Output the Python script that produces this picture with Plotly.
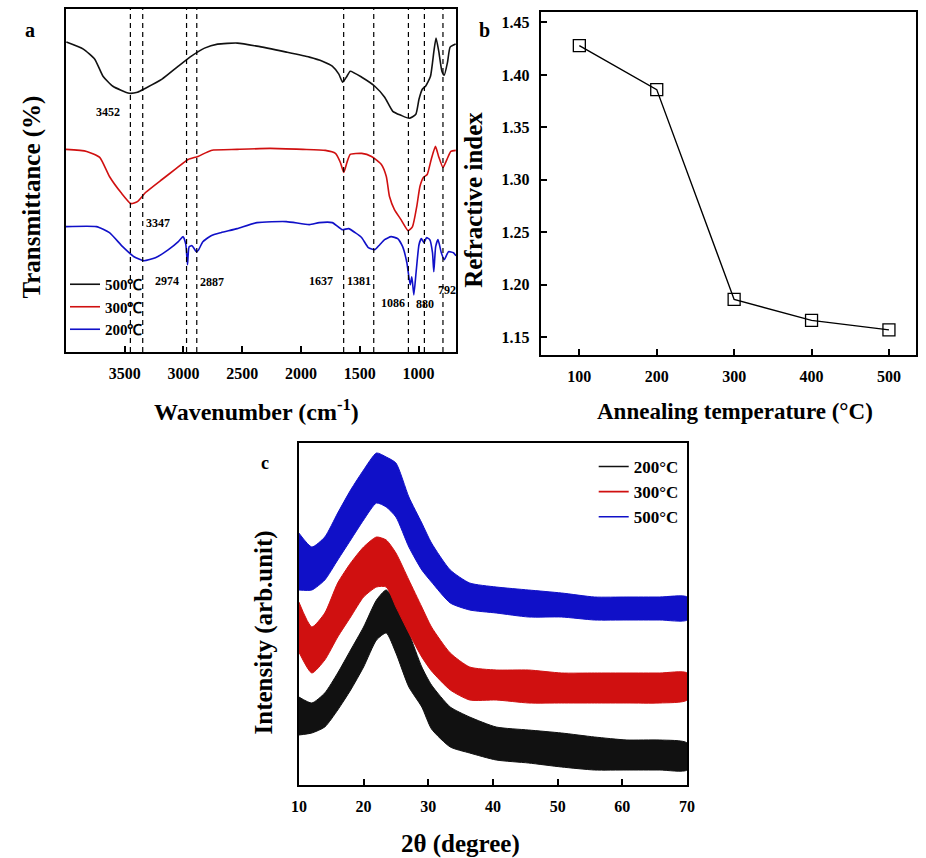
import plotly.graph_objects as go

W, H = 926, 858
def px(x): return x / W
def py(y): return 1 - y / H

FONT = "Liberation Serif"

# ---------------- Panel a : FTIR ----------------
wn_500 = [3997, 3852, 3755, 3685, 3601, 3462, 3392, 3323, 3183, 3044, 2933, 2821, 2710, 2542, 2375, 2124,
          1929, 1818, 1734, 1678, 1645, 1609, 1581, 1483, 1372, 1288, 1219, 1149, 1079, 1023, 996, 968,
          940, 898, 870, 851, 828, 801, 781, 753, 731, 684]
t_500 = [309, 302, 292, 275, 265, 258, 259, 263, 272, 285, 295, 303, 307, 308, 305, 299,
         294, 290, 285, 277, 269, 275, 280, 274, 265, 254, 240, 236, 233, 237, 252, 262,
         265, 275, 299, 313, 300, 280, 276, 289, 304, 307]

wn_300 = [4000, 3824, 3713, 3630, 3532, 3448, 3392, 3323, 3183, 3072, 2961, 2877, 2765, 2543, 2263, 1985,
          1793, 1707, 1665, 1636, 1609, 1581, 1483, 1400, 1316, 1274, 1247, 1205, 1149, 1088, 1051, 1015,
          988, 959, 926, 892, 856, 829, 792, 758, 725, 683]
t_300 = [202, 200, 194, 175, 159, 148, 150, 159, 172, 182, 192, 195, 201, 202, 203, 202,
         201, 198, 189, 179, 189, 197, 198, 195, 187, 175, 155, 142, 132, 121, 125, 145,
         165, 174, 177, 192, 205, 195, 184, 192, 200, 201]

wn_200 = [4000, 3741, 3630, 3518, 3421, 3337, 3239, 3128, 3044, 3003, 2980, 2966, 2952, 2927, 2890, 2871,
          2835, 2765, 2681, 2543, 2375, 2125, 1929, 1845, 1734, 1651, 1595, 1539, 1483, 1427, 1372, 1330,
          1289, 1233, 1177, 1135, 1099, 1071, 1057, 1040, 1021, 996, 976, 954, 932, 904, 881, 870,
          854, 834, 806, 781, 745, 703, 681]
t_200 = [125, 125, 119, 105, 95, 91, 94, 102, 110, 115, 107, 87, 105, 106, 100, 102,
         110, 116, 119, 123, 129, 130, 127, 129, 129, 122, 123, 119, 114, 104, 102, 107,
         112, 115, 113, 105, 89, 67, 75, 57, 79, 107, 113, 109, 114, 112, 99, 80,
         105, 112, 99, 92, 100, 99, 96]

peak_lines = [3452, 3347, 2974, 2887, 1637, 1381, 1086, 950, 792]
peak_labels = ["3452", "3347", "2974", "2887", "1637", "1381", "1086", "880", "792"]
peak_label_wn = [3640, 3214, 3139, 2754, 1834, 1508, 1216, 948, 756]
peak_label_t = [239, 129, 71, 70, 71, 71, 49, 48, 62]

wn_ticks = [3500, 3000, 2500, 2000, 1500, 1000]

# ---------------- Panel b : refractive index ----------------
anneal_temp = [100, 200, 300, 400, 500]
refr_index = [1.428, 1.386, 1.186, 1.166, 1.157]
n_ticks = [1.15, 1.20, 1.25, 1.30, 1.35, 1.40, 1.45]

# ---------------- Panel c : XRD (noise band envelopes) ----------------
two_theta = [10, 12, 14, 16, 18, 20, 22, 23.5, 25, 27, 29, 30.5, 33.4, 36.4, 40.5, 45.5, 50.6, 55.7, 60.7, 65.8, 70]
xrd200_hi = [88, 82, 92, 112, 135, 158, 185, 195, 182, 152, 118, 100, 78, 68, 58, 55, 52, 48, 45, 45, 42]
xrd200_lo = [50, 52, 58, 75, 95, 118, 145, 152, 132, 98, 78, 56, 38, 32, 25, 22, 18, 15, 15, 15, 15]
xrd300_hi = [183, 158, 172, 202, 222, 238, 248, 245, 232, 205, 178, 158, 132, 118, 115, 115, 112, 112, 112, 112, 112]
xrd300_lo = [133, 112, 125, 148, 168, 188, 198, 198, 178, 152, 128, 114, 95, 85, 85, 82, 82, 82, 82, 82, 85]
xrd500_hi = [252, 238, 248, 272, 295, 315, 332, 328, 322, 288, 262, 242, 215, 202, 198, 195, 192, 188, 188, 188, 188]
xrd500_lo = [195, 195, 205, 225, 245, 265, 282, 278, 268, 238, 215, 203, 182, 175, 172, 168, 168, 165, 165, 165, 165]
theta_ticks = [10, 20, 30, 40, 50, 60, 70]

BLACK, RED, BLUE = "#111111", "#d01010", "#1010c8"

fig = go.Figure()

# FTIR curves
for wn, t, name, col in [(wn_500, t_500, "500℃", BLACK), (wn_300, t_300, "300℃", RED), (wn_200, t_200, "200℃", BLUE)]:
    fig.add_trace(go.Scatter(x=wn, y=t, mode="lines", name=name, line=dict(color=col, width=1.6, shape="spline", smoothing=0.5),
                             xaxis="x", yaxis="y", legend="legend"))

# Refractive index
fig.add_trace(go.Scatter(x=anneal_temp, y=refr_index, mode="lines+markers", showlegend=False,
                         line=dict(color="black", width=1.4),
                         marker=dict(symbol="square-open", size=12, color="black", line=dict(width=1.3)),
                         xaxis="x2", yaxis="y2"))

# XRD bands
for hi, lo, name, col in [(xrd200_hi, xrd200_lo, "200°C", BLACK), (xrd300_hi, xrd300_lo, "300°C", RED), (xrd500_hi, xrd500_lo, "500°C", BLUE)]:
    fig.add_trace(go.Scatter(x=two_theta + two_theta[::-1], y=hi + lo[::-1], mode="lines", fill="toself",
                             fillcolor=col, line=dict(color=col, width=1, shape="spline", smoothing=0.6),
                             showlegend=False, xaxis="x3", yaxis="y3"))
for name, col in [("200°C", BLACK), ("300°C", RED), ("500°C", BLUE)]:
    fig.add_trace(go.Scatter(x=[None], y=[None], mode="lines", name=name, line=dict(color=col, width=1.6),
                             xaxis="x3", yaxis="y3", legend="legend2"))

axis_common = dict(showline=True, linecolor="black", linewidth=2, mirror=True, ticks="inside",
                   ticklen=6, tickwidth=1.5, tickcolor="black", showgrid=False, zeroline=False,
                   tickfont=dict(family=FONT, size=16, color="black", weight="bold"))

fig.update_layout(
    width=W, height=H, margin=dict(l=0, r=0, t=0, b=0),
    paper_bgcolor="white", plot_bgcolor="white",
    xaxis=dict(domain=[px(59), px(456)], range=[4000, 680], tickvals=wn_ticks, anchor="y",
               ticklabelstandoff=6, **axis_common),
    yaxis=dict(domain=[py(352), py(9)], range=[0, 342], showticklabels=False, anchor="x",
               **{k: v for k, v in axis_common.items() if k not in ("ticks",)}, ticks=""),
    xaxis2=dict(domain=[px(542), px(924)], range=[50, 535], tickvals=anneal_temp, anchor="y2",
                ticklabelstandoff=6, **axis_common),
    yaxis2=dict(domain=[py(355), py(12)], range=[1.133, 1.46], tickvals=n_ticks, tickformat=".2f",
                anchor="x2", ticklabelstandoff=6, **axis_common),
    xaxis3=dict(domain=[px(296), px(691)], range=[10, 70], tickvals=theta_ticks, anchor="y3",
                ticklabelstandoff=6, **axis_common),
    yaxis3=dict(domain=[py(785), py(443)], range=[0, 342], showticklabels=False, anchor="x3",
                **{k: v for k, v in axis_common.items() if k not in ("ticks",)}, ticks=""),
    legend=dict(x=px(58), y=py(268), xanchor="left", yanchor="top", bgcolor="rgba(0,0,0,0)",
                font=dict(family=FONT, size=15, color="black", weight="bold"), tracegroupgap=0),
    legend2=dict(x=px(596), y=py(449), xanchor="left", yanchor="top", bgcolor="rgba(0,0,0,0)",
                 font=dict(family=FONT, size=17, color="black", weight="bold"), tracegroupgap=0),
)

# dashed peak lines
for w in peak_lines:
    fig.add_shape(type="line", xref="x", yref="y domain", x0=w, x1=w, y0=0, y1=1,
                  line=dict(color="black", width=1.2, dash="5px,4px"))

# peak labels
for lab, w, t in zip(peak_labels, peak_label_wn, peak_label_t):
    fig.add_annotation(x=w, y=t, xref="x", yref="y", text=lab, showarrow=False,
                       font=dict(family=FONT, size=12, color="black", weight="bold"))

def ann(text, x, y, size, angle=0):
    fig.add_annotation(x=px(x), y=py(y), xref="paper", yref="paper", text=text, showarrow=False,
                       textangle=angle, xanchor="center", yanchor="middle",
                       font=dict(family=FONT, size=size, color="black", weight="bold"))

ann("Transmittance (%)", 24, 197, 25, -90)
ann("Wavenumber (cm<sup>-1</sup>)", 253, 410, 24)
ann("Refractive index", 473, 200, 25, -90)
ann("Annealing temperature (°C)", 740, 412, 23)
ann("Intensity (arb.unit)", 261, 632, 25, -90)
ann("2θ (degree)", 460, 844, 25)
ann("a", 22, 30, 20)
ann("b", 485, 30, 20)
ann("c", 262, 463, 18)

fig.write_html("out.html", config={"responsive": False, "displayModeBar": False},
               post_script="document.body.style.margin='0';document.body.style.overflow='hidden';")
